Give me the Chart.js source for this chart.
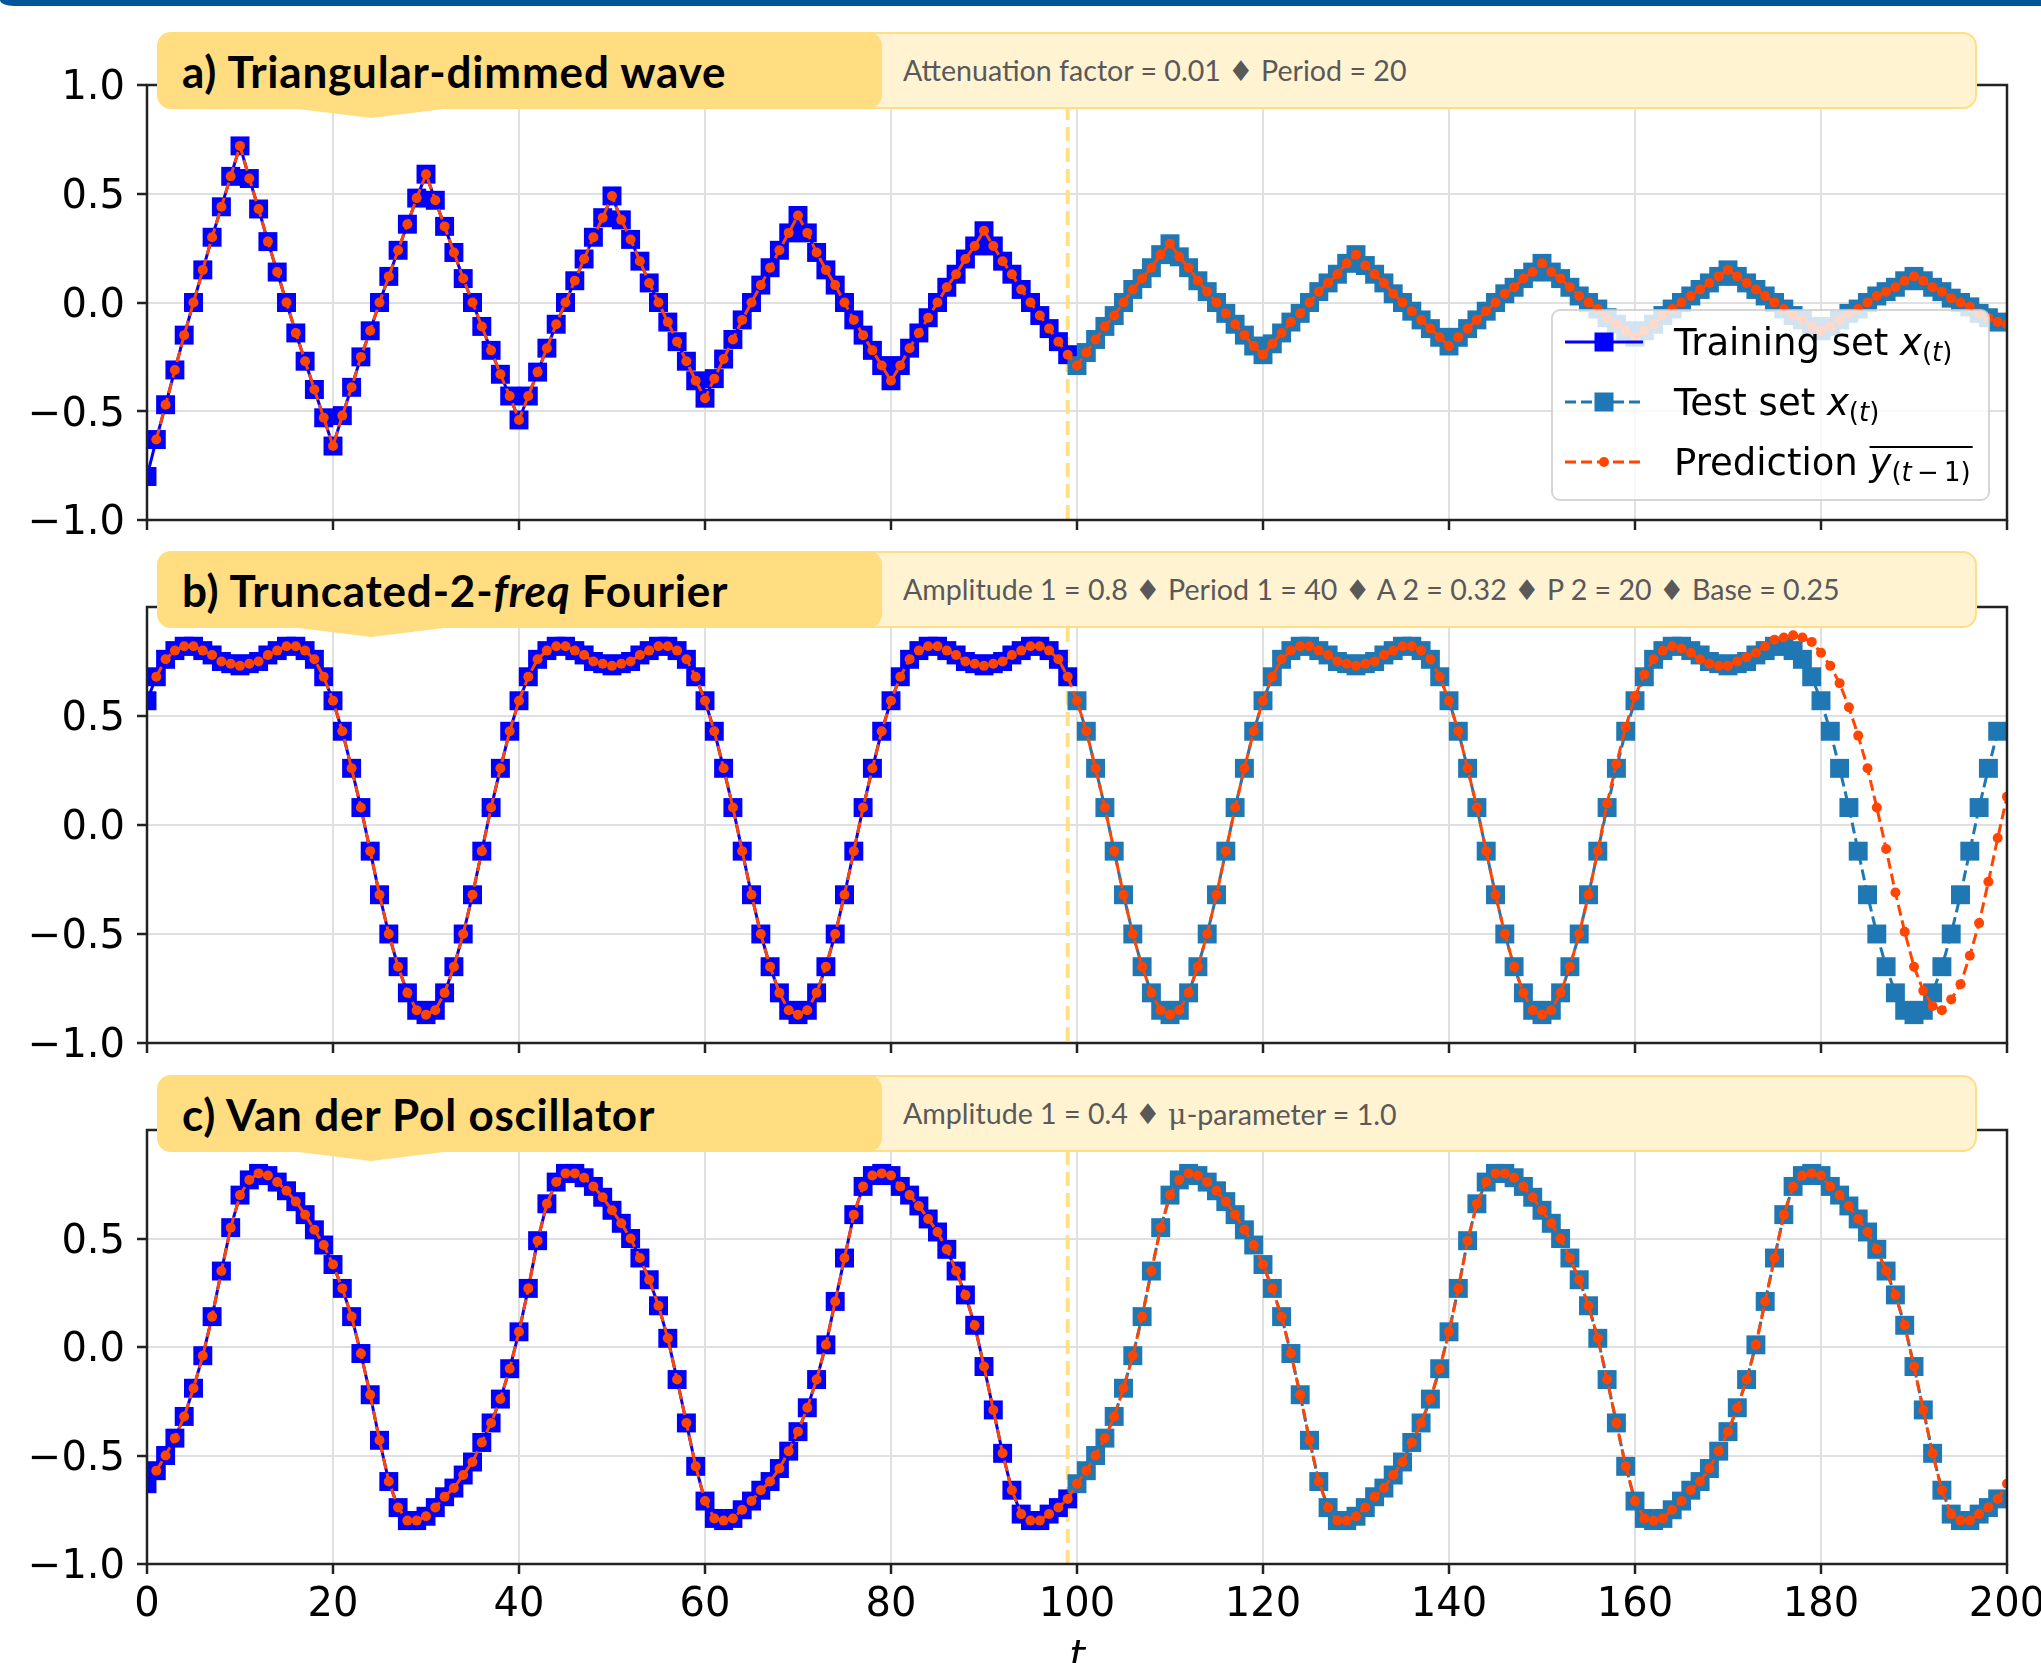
<!DOCTYPE html>
<html>
<head>
<meta charset="utf-8">
<script src="https://cdn.jsdelivr.net/npm/chart.js@4.4.1/dist/chart.umd.min.js"></script>
<style>
  html, body { margin: 0; padding: 0; background: #fff; }
  #page { position: relative; width: 2041px; height: 1663px; overflow: hidden; background: #fff; }
  #page canvas { position: absolute; left: 0; top: 0; }
  .topbar { position: absolute; left: 0; top: 0; width: 2041px; height: 6px; background: #00569b; border-bottom-left-radius: 14px 6px; z-index: 6; }
  .banner { position: absolute; left: 157px; width: 1820px; height: 77px; z-index: 5; }
  .banner .params {
    position: absolute; left: 690px; right: 0; top: 0; height: 77px; box-sizing: border-box;
    background: #fff3d1; border: 2px solid #ffdf85; border-radius: 14px;
    padding-left: 54px; display: flex; align-items: center;
    font: 28.6px Lato, "DejaVu Sans", sans-serif; color: #595959; white-space: nowrap;
  }
  .banner .title {
    position: absolute; left: 0; top: 0; width: 725px; height: 77px; box-sizing: border-box;
    background: #ffdd80; border-radius: 14px; padding-left: 25px; display: flex; align-items: center;
    font: bold 44px Lato, sans-serif; letter-spacing: 0.8px; color: #000; white-space: nowrap;
  }
  .banner .pointer {
    position: absolute; left: 133px; top: 76px; width: 162px; height: 10px; background: #ffdd80;
    clip-path: polygon(0 0, 100% 0, 50% 100%);
  }
  .mu { font-family: "DejaVu Serif", serif; }
</style>
</head>
<body>
<div id="page">
  <div class="topbar"></div>
  <canvas id="chartA" width="2041" height="1663"></canvas>
  <canvas id="chartB" width="2041" height="1663"></canvas>
  <canvas id="chartC" width="2041" height="1663"></canvas>

  <div class="banner" style="top:32px">
    <div class="params">Attenuation factor = 0.01 ♦ Period = 20</div>
    <div class="title">a) Triangular-dimmed wave</div>
    <div class="pointer"></div>
  </div>
  <div class="banner" style="top:551px">
    <div class="params">Amplitude 1 = 0.8 ♦ Period 1 = 40 ♦ A 2 = 0.32 ♦ P 2 = 20 ♦ Base = 0.25</div>
    <div class="title">b) Truncated-2-<i>freq</i>&nbsp;Fourier</div>
    <div class="pointer"></div>
  </div>
  <div class="banner" style="top:1075px">
    <div class="params">Amplitude 1 = 0.4 ♦&nbsp;<span class="mu">μ</span>-parameter = 1.0</div>
    <div class="title">c) Van der Pol oscillator</div>
    <div class="pointer"></div>
  </div>
</div>

<script>
// Data (t = 0..199, one value per time step)
const splitT = 99;
const trainEnd = 100;
const xTickValues = [0, 20, 40, 60, 80, 100, 120, 140, 160, 180, 200];
const yTickValues = [-1, -0.5, 0, 0.5, 1];

const triangularValues = [
    -0.80, -0.63, -0.47, -0.31, -0.15, 0.00, 0.15, 0.30, 0.44, 0.58,
    0.72, 0.57, 0.43, 0.28, 0.14, 0.00, -0.14, -0.27, -0.40, -0.53,
    -0.66, -0.52, -0.39, -0.25, -0.13, 0.00, 0.12, 0.24, 0.36, 0.48,
    0.59, 0.47, 0.35, 0.23, 0.11, 0.00, -0.11, -0.22, -0.33, -0.43,
    -0.54, -0.43, -0.32, -0.21, -0.10, 0.00, 0.10, 0.20, 0.30, 0.39,
    0.49, 0.38, 0.29, 0.19, 0.09, 0.00, -0.09, -0.18, -0.27, -0.36,
    -0.44, -0.35, -0.26, -0.17, -0.08, 0.00, 0.08, 0.16, 0.24, 0.32,
    0.40, 0.32, 0.23, 0.15, 0.08, 0.00, -0.08, -0.15, -0.22, -0.29,
    -0.36, -0.29, -0.21, -0.14, -0.07, 0.00, 0.07, 0.13, 0.20, 0.26,
    0.33, 0.26, 0.19, 0.13, 0.06, 0.00, -0.06, -0.12, -0.18, -0.24,
    -0.29, -0.23, -0.17, -0.11, -0.06, 0.00, 0.06, 0.11, 0.16, 0.22,
    0.27, 0.21, 0.16, 0.10, 0.05, 0.00, -0.05, -0.10, -0.15, -0.20,
    -0.24, -0.19, -0.14, -0.09, -0.05, 0.00, 0.05, 0.09, 0.13, 0.18,
    0.22, 0.17, 0.13, 0.09, 0.04, 0.00, -0.04, -0.08, -0.12, -0.16,
    -0.20, -0.16, -0.12, -0.08, -0.04, 0.00, 0.04, 0.07, 0.11, 0.14,
    0.18, 0.14, 0.11, 0.07, 0.03, 0.00, -0.03, -0.07, -0.10, -0.13,
    -0.16, -0.13, -0.10, -0.06, -0.03, 0.00, 0.03, 0.06, 0.09, 0.12,
    0.15, 0.12, 0.09, 0.06, 0.03, 0.00, -0.03, -0.06, -0.08, -0.11,
    -0.13, -0.11, -0.08, -0.05, -0.03, 0.00, 0.03, 0.05, 0.07, 0.10,
    0.12, 0.10, 0.07, 0.05, 0.02, 0.00, -0.02, -0.05, -0.07, -0.09
];
const triangularPredictionEnd = -0.10; // t = 200

const fourierValues = [
    0.57, 0.68, 0.76, 0.80, 0.82, 0.82, 0.80, 0.78, 0.75, 0.74, 0.73, 0.74, 0.75, 0.78, 0.80, 0.82, 0.82, 0.80, 0.76, 0.68,
    0.57, 0.43, 0.26, 0.08, -0.12, -0.32, -0.50, -0.65, -0.77, -0.85, -0.87, -0.85, -0.77, -0.65, -0.50, -0.32, -0.12, 0.08, 0.26, 0.43,
    0.57, 0.68, 0.76, 0.80, 0.82, 0.82, 0.80, 0.78, 0.75, 0.74, 0.73, 0.74, 0.75, 0.78, 0.80, 0.82, 0.82, 0.80, 0.76, 0.68,
    0.57, 0.43, 0.26, 0.08, -0.12, -0.32, -0.50, -0.65, -0.77, -0.85, -0.87, -0.85, -0.77, -0.65, -0.50, -0.32, -0.12, 0.08, 0.26, 0.43,
    0.57, 0.68, 0.76, 0.80, 0.82, 0.82, 0.80, 0.78, 0.75, 0.74, 0.73, 0.74, 0.75, 0.78, 0.80, 0.82, 0.82, 0.80, 0.76, 0.68,
    0.57, 0.43, 0.26, 0.08, -0.12, -0.32, -0.50, -0.65, -0.77, -0.85, -0.87, -0.85, -0.77, -0.65, -0.50, -0.32, -0.12, 0.08, 0.26, 0.43,
    0.57, 0.68, 0.76, 0.80, 0.82, 0.82, 0.80, 0.78, 0.75, 0.74, 0.73, 0.74, 0.75, 0.78, 0.80, 0.82, 0.82, 0.80, 0.76, 0.68,
    0.57, 0.43, 0.26, 0.08, -0.12, -0.32, -0.50, -0.65, -0.77, -0.85, -0.87, -0.85, -0.77, -0.65, -0.50, -0.32, -0.12, 0.08, 0.26, 0.43,
    0.57, 0.68, 0.76, 0.80, 0.82, 0.82, 0.80, 0.78, 0.75, 0.74, 0.73, 0.74, 0.75, 0.78, 0.80, 0.82, 0.82, 0.80, 0.76, 0.68,
    0.57, 0.43, 0.26, 0.08, -0.12, -0.32, -0.50, -0.65, -0.77, -0.85, -0.87, -0.85, -0.77, -0.65, -0.50, -0.32, -0.12, 0.08, 0.26, 0.43
];
// prediction drifts away from the test set near the end (t = 157..200)
const fourierPredictionTail = [
    0.10, 0.28, 0.45, 0.59, 0.69, 0.76, 0.80, 0.82, 0.81, 0.79, 0.76, 0.74, 0.73,
    0.73, 0.75, 0.77, 0.79, 0.82, 0.85, 0.86, 0.87, 0.86, 0.84,
    0.79, 0.73, 0.65, 0.54, 0.41, 0.26, 0.08, -0.11, -0.31, -0.49,
    -0.65, -0.76, -0.83, -0.85, -0.80, -0.73, -0.60, -0.45, -0.26, -0.06,
    0.13
];

const vanDerPolValues = [
    -0.63, -0.57, -0.50, -0.42, -0.32, -0.19, -0.04, 0.14, 0.35, 0.55,
    0.70, 0.77, 0.80, 0.79, 0.76, 0.72, 0.67, 0.61, 0.54, 0.47,
    0.38, 0.27, 0.14, -0.03, -0.22, -0.43, -0.62, -0.74, -0.80, -0.80,
    -0.78, -0.74, -0.69, -0.65, -0.59, -0.53, -0.44, -0.35, -0.24, -0.10,
    0.07, 0.27, 0.49, 0.66, 0.76, 0.80, 0.80, 0.78, 0.74, 0.69,
    0.63, 0.57, 0.50, 0.41, 0.31, 0.19, 0.04, -0.15, -0.35, -0.55,
    -0.71, -0.79, -0.80, -0.79, -0.75, -0.71, -0.66, -0.62, -0.56, -0.48,
    -0.39, -0.28, -0.15, 0.01, 0.21, 0.41, 0.61, 0.74, 0.79, 0.80,
    0.79, 0.74, 0.70, 0.65, 0.59, 0.53, 0.45, 0.35, 0.24, 0.10,
    -0.09, -0.29, -0.49, -0.66, -0.77, -0.80, -0.80, -0.77, -0.74, -0.70,
    -0.63, -0.57, -0.50, -0.42, -0.32, -0.19, -0.04, 0.14, 0.35, 0.55,
    0.70, 0.77, 0.80, 0.79, 0.76, 0.72, 0.67, 0.61, 0.54, 0.47,
    0.38, 0.27, 0.14, -0.03, -0.22, -0.43, -0.62, -0.74, -0.80, -0.80,
    -0.78, -0.74, -0.69, -0.65, -0.59, -0.53, -0.44, -0.35, -0.24, -0.10,
    0.07, 0.27, 0.49, 0.66, 0.76, 0.80, 0.80, 0.78, 0.74, 0.69,
    0.63, 0.57, 0.50, 0.41, 0.31, 0.19, 0.04, -0.15, -0.35, -0.55,
    -0.71, -0.79, -0.80, -0.79, -0.75, -0.71, -0.66, -0.62, -0.56, -0.48,
    -0.39, -0.28, -0.15, 0.01, 0.21, 0.41, 0.61, 0.74, 0.79, 0.80,
    0.79, 0.74, 0.70, 0.65, 0.59, 0.53, 0.45, 0.35, 0.24, 0.10,
    -0.09, -0.29, -0.49, -0.66, -0.77, -0.80, -0.80, -0.77, -0.74, -0.70
];
const vanDerPolPredictionEnd = -0.63; // t = 200

const TRAIN_COLOR = "#0000ff";
const TEST_COLOR = "#1f77b4";
const PRED_COLOR = "#ff4500";
const SPINE_COLOR = "#222222";
const GRID_COLOR = "#e0e0e0";
const TICK_FONT = '"DejaVu Sans"';
const SQUARE_RADIUS = 13.4; // rect side = radius * sqrt(2) ~ 19px

const toPoints = (values, start) => values.map((v, i) => ({ x: start + i, y: v }));
const formatTick = v => (v < 0 ? "\u2212" : "") + Math.abs(v).toFixed(1);

// Split line and axes box
const panelFrame = {
    id: "panelFrame",
    beforeDatasetsDraw(chart) {
        const { ctx, chartArea: a, scales: { x } } = chart;
        const px = x.getPixelForValue(splitT);
        ctx.save();
        ctx.strokeStyle = "#ffe083";
        ctx.lineWidth = 4;
        ctx.setLineDash([14, 7]);
        ctx.beginPath();
        ctx.moveTo(px, a.top);
        ctx.lineTo(px, a.bottom);
        ctx.stroke();
        ctx.restore();
    },
    afterDatasetsDraw(chart) {
        const { ctx, chartArea: a } = chart;
        ctx.save();
        ctx.strokeStyle = SPINE_COLOR;
        ctx.lineWidth = 2.5;
        ctx.strokeRect(a.left, a.top, a.right - a.left, a.bottom - a.top);
        ctx.restore();
    }
};

// Writes a run of text pieces, returns end x
const drawRich = (ctx, parts, x, y) => {
    parts.forEach(p => {
        ctx.font = p.font;
        ctx.fillText(p.text, x, y + (p.dy || 0));
        x += ctx.measureText(p.text).width;
    });
    return x;
};

const legendBox = {
    id: "legendBox",
    afterDraw(chart) {
        const ctx = chart.ctx;
        ctx.save();
        ctx.beginPath();
        ctx.roundRect(1552, 310, 437, 190, 8);
        ctx.fillStyle = "rgba(255,255,255,0.8)";
        ctx.fill();
        ctx.strokeStyle = "rgba(204,204,204,0.8)";
        ctx.lineWidth = 2;
        ctx.stroke();

        const rows = [
            { y: 342, color: TRAIN_COLOR, dash: [], marker: "rect" },
            { y: 402, color: TEST_COLOR, dash: [11, 5], marker: "rect" },
            { y: 462, color: PRED_COLOR, dash: [11, 5], marker: "circle" }
        ];
        rows.forEach(r => {
            ctx.strokeStyle = r.color;
            ctx.fillStyle = r.color;
            ctx.lineWidth = 3;
            ctx.setLineDash(r.dash);
            ctx.beginPath();
            ctx.moveTo(1565, r.y);
            ctx.lineTo(1643, r.y);
            ctx.stroke();
            ctx.setLineDash([]);
            if (r.marker === "rect") {
                ctx.fillRect(1594.5, r.y - 9.5, 19, 19);
            } else {
                ctx.beginPath();
                ctx.arc(1604, r.y, 5, 0, Math.PI * 2);
                ctx.fill();
            }
        });

        const big = '37px "DejaVu Sans"';
        const bigIt = 'italic 37px "DejaVu Sans"';
        const sub = '26px "DejaVu Sans"';
        const subIt = 'italic 26px "DejaVu Sans"';
        ctx.fillStyle = "#000";
        ctx.textAlign = "left";
        ctx.textBaseline = "alphabetic";
        const xSub = [
            { text: "x", font: bigIt },
            { text: "(", font: sub, dy: 6 },
            { text: "t", font: subIt, dy: 6 },
            { text: ")", font: sub, dy: 6 }
        ];
        drawRich(ctx, [{ text: "Training set ", font: big }, ...xSub], 1674, 355);
        drawRich(ctx, [{ text: "Test set ", font: big }, ...xSub], 1674, 415);
        const yStart = drawRich(ctx, [{ text: "Prediction ", font: big }], 1674, 475);
        const yEnd = drawRich(ctx, [
            { text: "y", font: bigIt },
            { text: "(", font: sub, dy: 6 },
            { text: "t", font: subIt, dy: 6 },
            { text: "\u2009\u2212\u20091", font: sub, dy: 6 },
            { text: ")", font: sub, dy: 6 }
        ], yStart, 475);
        ctx.strokeStyle = "#000";
        ctx.lineWidth = 2;
        ctx.beginPath();
        ctx.moveTo(yStart, 447);
        ctx.lineTo(yEnd + 2, 447);
        ctx.stroke();
        ctx.restore();
    }
};

const bottomLabels = {
    id: "bottomLabels",
    afterDraw(chart) {
        const { ctx, chartArea: a, scales: { x } } = chart;
        ctx.save();
        ctx.fillStyle = "#000";
        ctx.textAlign = "center";
        ctx.textBaseline = "alphabetic";
        ctx.font = "40px " + TICK_FONT;
        xTickValues.forEach(v => ctx.fillText(String(v), x.getPixelForValue(v), 1616));
        ctx.font = "italic 40px " + TICK_FONT;
        ctx.fillText("t", (a.left + a.right) / 2, 1669);
        ctx.restore();
    }
};

const panels = [
    {
        id: "chartA", top: 85, bottom: 520, showTop: true,
        values: triangularValues,
        prediction: [...triangularValues.slice(1), triangularPredictionEnd],
        extra: [legendBox]
    },
    {
        id: "chartB", top: 607, bottom: 1043, showTop: false,
        values: fourierValues,
        prediction: [...fourierValues.slice(1, 157), ...fourierPredictionTail],
        extra: []
    },
    {
        id: "chartC", top: 1130, bottom: 1564, showTop: false,
        values: vanDerPolValues,
        prediction: [...vanDerPolValues.slice(1), vanDerPolPredictionEnd],
        extra: [bottomLabels]
    }
];

const gridOpts = {
    color: GRID_COLOR,
    lineWidth: 2,
    drawTicks: true,
    tickLength: 10,
    tickColor: SPINE_COLOR,
    tickWidth: 2.5
};

panels.forEach(p => {
    new Chart(document.getElementById(p.id), {
        type: "line",
        data: {
            datasets: [{
                label: "Training set",
                data: toPoints(p.values.slice(0, trainEnd), 0),
                borderColor: TRAIN_COLOR,
                backgroundColor: TRAIN_COLOR,
                borderWidth: 3,
                pointStyle: "rect",
                pointRadius: SQUARE_RADIUS,
                pointBorderWidth: 0,
                clip: 0,
                order: 3
            }, {
                label: "Test set",
                data: toPoints(p.values.slice(trainEnd), trainEnd),
                borderColor: TEST_COLOR,
                backgroundColor: TEST_COLOR,
                borderWidth: 3,
                borderDash: [11, 5],
                pointStyle: "rect",
                pointRadius: SQUARE_RADIUS,
                pointBorderWidth: 0,
                clip: 0,
                order: 2
            }, {
                label: "Prediction",
                data: toPoints(p.prediction, 1),
                borderColor: PRED_COLOR,
                backgroundColor: PRED_COLOR,
                borderWidth: 3,
                borderDash: [11, 5],
                pointStyle: "circle",
                pointRadius: 5,
                pointBorderWidth: 0,
                clip: 0,
                order: 1
            }]
        },
        options: {
            responsive: false,
            animation: false,
            devicePixelRatio: 1,
            events: [],
            layout: {
                padding: { left: 0, right: 2041 - 2007, top: p.top, bottom: 1663 - p.bottom - 10 }
            },
            elements: { line: { tension: 0 } },
            plugins: {
                legend: { display: false },
                tooltip: { enabled: false }
            },
            scales: {
                x: {
                    type: "linear",
                    min: 0,
                    max: 200,
                    afterBuildTicks: axis => { axis.ticks = xTickValues.map(v => ({ value: v })); },
                    ticks: { display: false },
                    grid: gridOpts,
                    border: { display: false },
                    afterFit: axis => { axis.height = 10; }
                },
                y: {
                    type: "linear",
                    min: -1,
                    max: 1,
                    afterBuildTicks: axis => {
                        axis.ticks = yTickValues.filter(v => p.showTop || v < 1).map(v => ({ value: v }));
                    },
                    ticks: {
                        color: "#000",
                        font: { family: "DejaVu Sans", size: 40 },
                        padding: 12,
                        labelOffset: 4,
                        callback: v => formatTick(v)
                    },
                    grid: gridOpts,
                    border: { display: false },
                    afterFit: axis => { axis.width = 147; }
                }
            }
        },
        plugins: [panelFrame, ...p.extra]
    });
});
</script>
</body>
</html>
